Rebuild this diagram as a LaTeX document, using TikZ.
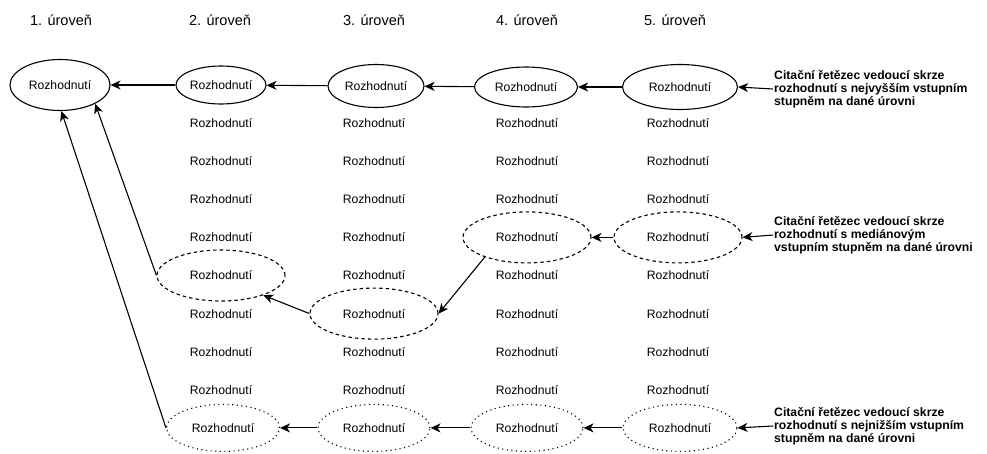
\documentclass[tikz,border=0pt]{standalone}
\usepackage{fontspec}
\setmainfont{Liberation Sans}
\usetikzlibrary{shapes.geometric,arrows.meta}

\begin{document}
\begin{tikzpicture}[x=1pt,y=-1pt,
		every node/.style={font=\fontsize{12.2}{14}\selectfont},
		level/.style={font=\fontsize{14.5}{17}\selectfont},
		decision/.style={ellipse, draw, line width=1.1pt, inner sep=0pt},
		median/.style={decision, dash pattern=on 3.5pt off 3pt},
		lowest/.style={decision, dash pattern=on 1.1pt off 3.5pt},
		chain/.style={font=\bfseries\fontsize{12.2}{13}\selectfont, align=left, anchor=west, inner sep=1pt},
		link/.style={-{Stealth[length=10pt,width=9pt,inset=3pt]}, line width=1.1pt}]
		\useasboundingbox (0,0) rectangle (987,453);
		
		% Levels
		\foreach \i/\x in {1/61,2/220,3/374,4/527,5/675}
		{
			\node[level] (head\i) at (\x,20) {\i. úroveň};
		}
		
		% Plain decisions
		\foreach \c/\x/\skip in {2/221/6,3/374/7,4/527/5,5/678/5}
		{
			\foreach \r in {2,...,9}
			{
				\ifnum\r=\skip\else
				\node (n\c-\r) at (\x,{85+38.1*(\r-1)}) {Rozhodnutí};
				\fi
			}
		}
		
		% Highest in-degree
		\node[decision, minimum width=100pt, minimum height=51pt] (s1) at (60,85) {Rozhodnutí};
		\node[decision, minimum width=90pt, minimum height=38pt] (s2) at (221,85) {Rozhodnutí};
		\node[decision, minimum width=96pt, minimum height=43pt] (s3) at (376,86) {Rozhodnutí};
		\node[decision, minimum width=103pt, minimum height=40pt] (s4) at (526,87) {Rozhodnutí};
		\node[decision, minimum width=115pt, minimum height=45pt] (s5) at (680,87) {Rozhodnutí};
		
		% Median in-degree
		\node[median, minimum width=128pt, minimum height=51pt] (d2) at (221,275.5) {Rozhodnutí};
		\node[median, minimum width=128pt, minimum height=51pt] (d3) at (374,313.6) {Rozhodnutí};
		\node[median, minimum width=128pt, minimum height=51pt] (d4) at (527,237.4) {Rozhodnutí};
		\node[median, minimum width=128pt, minimum height=51pt] (d5) at (678,237.4) {Rozhodnutí};
		
		% Lowest in-degree
		\node[lowest, minimum width=113pt, minimum height=47pt] (t2) at (223,427.9) {Rozhodnutí};
		\node[lowest, minimum width=112pt, minimum height=47pt] (t3) at (374,427.9) {Rozhodnutí};
		\node[lowest, minimum width=112pt, minimum height=47pt] (t4) at (527,427.9) {Rozhodnutí};
		\node[lowest, minimum width=114pt, minimum height=47pt] (t5) at (680,427.9) {Rozhodnutí};
		
		% Chain labels
		\node[chain] (lab1) at (773,89) {Citační řetězec vedoucí skrze\\rozhodnutí s nejvyšším vstupním\\stupněm na dané úrovni};
		\node[chain] (lab2) at (773,235) {Citační řetězec vedoucí skrze\\rozhodnutí s mediánovým\\vstupním stupněm na dané úrovni};
		\node[chain] (lab3) at (773,426) {Citační řetězec vedoucí skrze\\rozhodnutí s nejnižším vstupním\\stupněm na dané úrovni};
		
		% Arrows
		\draw[link] (lab1.west) -- (s5.east);
		\draw[link] (s5) -- (s4);
		\draw[link] (s4) -- (s3);
		\draw[link] (s3) -- (s2);
		\draw[link] (s2) -- (s1);
		%
		\draw[link] (lab2.west) -- (d5.east);
		\draw[link] (d5) -- (d4);
		\draw[link] (d4.-155) -- (d3.east);
		\draw[link] (d3.west) -- (d2.-25);
		\draw[link] (d2.west) -- (s1.-28);
		%
		\draw[link] (lab3.west) -- (t5.east);
		\draw[link] (t5) -- (t4);
		\draw[link] (t4) -- (t3);
		\draw[link] (t3) -- (t2);
		\draw[link] (t2.west) -- (s1.-87);
	\end{tikzpicture}
\end{document}
